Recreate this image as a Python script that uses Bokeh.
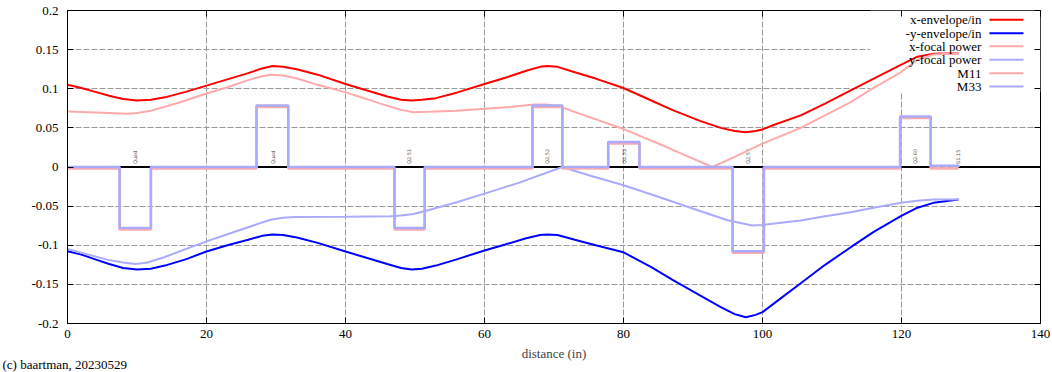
import numpy as np
from bokeh.plotting import figure
from bokeh.models import (Range1d, FixedTicker, CustomJSTickFormatter, LinearAxis,
                          Label, ColumnDataSource, Title)
from bokeh.core.properties import value
from bokeh.transform import dodge
from bokeh.embed import file_html
from bokeh.resources import INLINE

# ---------------- data ----------------
env_s = [0, 2, 4, 6, 8, 10, 12, 14, 17, 20, 23, 26, 28, 29.5, 31, 33, 36, 40, 43, 46,
         48, 49.5, 51, 53, 56, 60, 63, 66, 68, 69, 70.5, 73, 76, 80, 84, 87, 91, 94, 96,
         97.6, 99, 100, 102, 105.5, 109, 112.7, 116, 119.9, 122.3, 124.6, 128.2]
x_envelope = [0.105, 0.101, 0.096, 0.091, 0.087, 0.085, 0.086, 0.089, 0.096, 0.104,
              0.112, 0.120, 0.126, 0.129, 0.128, 0.125, 0.118, 0.106, 0.098, 0.090,
              0.086, 0.085, 0.086, 0.088, 0.095, 0.106, 0.114, 0.123, 0.128, 0.129,
              0.128, 0.121, 0.113, 0.101, 0.085, 0.073, 0.059, 0.050, 0.046, 0.0445,
              0.046, 0.048, 0.055, 0.066, 0.081, 0.098, 0.113, 0.1306, 0.141, 0.1447, 0.1455]
y_envelope_neg = [-0.1076, -0.112, -0.118, -0.124, -0.129, -0.131, -0.130, -0.126, -0.118,
                  -0.108, -0.100, -0.093, -0.088, -0.0863, -0.087, -0.090, -0.097, -0.108,
                  -0.116, -0.124, -0.129, -0.131, -0.130, -0.126, -0.118, -0.1067, -0.099,
                  -0.091, -0.087, -0.0863, -0.087, -0.093, -0.100, -0.109, -0.128, -0.144,
                  -0.164, -0.179, -0.188, -0.192, -0.189, -0.1855, -0.172, -0.1485, -0.125,
                  -0.1025, -0.083, -0.0629, -0.052, -0.0458, -0.0415]

fx_s = [0, 3, 6, 8.6, 10, 12, 14, 17, 20, 23, 26, 28, 29.2, 31, 33, 36, 39.8, 43, 45, 46.5,
        48, 49.8, 52, 56, 60, 64, 67.1, 69, 70.9, 75, 79.9, 85, 89, 92.8, 96, 99.9, 105.5,
        109, 112.7, 116, 119.9, 122.3, 124.6, 128.2]
x_focal = [0.071, 0.070, 0.069, 0.068, 0.069, 0.072, 0.077, 0.085, 0.094, 0.102, 0.111,
           0.116, 0.118, 0.117, 0.113, 0.105, 0.096, 0.087, 0.081, 0.077, 0.073, 0.070,
           0.0705, 0.072, 0.0743, 0.077, 0.080, 0.080, 0.077, 0.064, 0.0488, 0.030, 0.0145,
           0.0, 0.013, 0.0296, 0.050, 0.066, 0.083, 0.101, 0.121, 0.137, 0.1438, 0.1455]

fy_s = [0, 3, 6, 8, 9.8, 11.5, 14, 17, 20, 23, 26, 28, 29.2, 31, 32.7, 40, 46.5, 48, 49.8,
        52, 56, 60, 65, 71.2, 75, 79.9, 85, 91.1, 95, 98.5, 99.9, 102, 105.5, 109, 112.7,
        116, 119.9, 122.3, 124.6, 128.2]
y_focal = [-0.1046, -0.112, -0.119, -0.122, -0.124, -0.122, -0.115, -0.105, -0.095, -0.086,
           -0.077, -0.071, -0.0675, -0.065, -0.064, -0.0635, -0.0628, -0.062, -0.060, -0.055,
           -0.045, -0.034, -0.020, 0.0, -0.0105, -0.023, -0.038, -0.0565, -0.068, -0.0748,
           -0.0741, -0.072, -0.0684, -0.063, -0.0577, -0.052, -0.0458, -0.043, -0.0415, -0.0415]

quad_start = [7.5, 27.2, 47.05, 66.9, 77.8, 95.7, 119.8, 124.2]
quad_end = [12.0, 31.76, 51.4, 71.2, 82.3, 100.2, 124.2, 128.2]
m11_k = [-0.078, 0.0786, -0.078, 0.0786, 0.032, -0.1076, 0.0645, 0.0]
m33_k = [-0.078, 0.0786, -0.078, 0.0786, 0.032, -0.1076, 0.0645, 0.0015]

elem_start = [7.5, 27.2, 47.05, 66.9, 77.8, 95.7, 119.8, 128.2]
elem_end = [12.0, 31.76, 51.4, 71.2, 82.3, 100.2, 124.2, 140.0]
elem_label_at = [9.75, 29.5, 49.2, 69.0, 80.0, 97.9, 122.0, 128.2]
elem_names = ["Quad", "Quad", "Q2.51", "Q2.52", "Q2.53", "Q2.57", "Q2.60", "S1.15"]

x_ticks = [0, 20, 40, 60, 80, 100, 120, 140]
y_ticks = [-0.2, -0.15, -0.1, -0.05, 0, 0.05, 0.1, 0.15, 0.2]

legend_names = ["x-envelope/in", "-y-envelope/in", "x-focal power", "y-focal power", "M11", "M33"]
legend_colors = ["#ff0000", "#0000ff", "#ffaaaa", "#aaaaff", "#ffaaaa", "#aaaaff"]

caption = "(c) baartman, 20230529"

# ---------------- helpers ----------------
def steps(starts, ends, k):
    xs, ys = [0.0], [0.0]
    for s, e, v in zip(starts, ends, k):
        xs += [s, s, e, e]
        ys += [0.0, v, v, 0.0]
    return xs, ys

FONT = "Liberation Serif"

p = figure(width=1052, height=372, x_range=Range1d(0, 140), y_range=Range1d(-0.2, 0.2),
           output_backend="svg", toolbar_location=None,
           min_border_left=67, min_border_right=12, min_border_top=10, min_border_bottom=49)
p.background_fill_color = "white"
p.border_fill_color = "white"
p.outline_line_color = "black"
p.outline_line_width = 1

# axes
for ax in (p.xaxis[0], p.yaxis[0]):
    ax.major_label_text_font = FONT
    ax.major_label_text_font_size = "13px"
    ax.major_label_text_color = "black"
    ax.axis_line_color = "black"
    ax.major_tick_in = 6
    ax.major_tick_out = 0
    ax.major_tick_line_color = "black"
    ax.minor_tick_line_color = None
p.xaxis.ticker = FixedTicker(ticks=x_ticks)
p.yaxis.ticker = FixedTicker(ticks=y_ticks)
p.yaxis.formatter = CustomJSTickFormatter(code="return String(Math.round(tick*100)/100)")
p.xaxis.major_label_standoff = 6
p.yaxis.major_label_standoff = 9
p.xaxis.axis_label = "distance (in)"
p.xaxis.axis_label_text_font = FONT
p.xaxis.axis_label_text_font_size = "13px"
p.xaxis.axis_label_text_font_style = "normal"
p.xaxis.axis_label_standoff = 5

for loc, tk in (("above", x_ticks), ("right", y_ticks)):
    ax = LinearAxis(ticker=FixedTicker(ticks=tk),
                    formatter=CustomJSTickFormatter(code="return ''"),
                    major_label_text_font_size="0px", major_label_standoff=0,
                    axis_line_color=None, major_tick_in=6, major_tick_out=0,
                    major_tick_line_color="black", minor_tick_line_color=None)
    p.add_layout(ax, loc)

# caption below, at the far left
p.add_layout(Title(text=caption, align="left", offset=-65, standoff=-17,
                   text_font=FONT, text_font_size="13px", text_font_style="normal",
                   text_color="black"), "below")

# grid
p.xgrid.ticker = FixedTicker(ticks=x_ticks)
p.ygrid.ticker = FixedTicker(ticks=y_ticks)
for g in (p.xgrid[0], p.ygrid[0]):
    g.grid_line_color = "#9a9a9a"
    g.grid_line_dash = "6 2"
    g.grid_line_width = 1

# opaque key box (hides grid behind the key)
p.quad(left=[115.5], right=[140], bottom=[0.0958], top=[0.2],
       fill_color="white", line_color=None)

# element markers on the axis
p.segment(x0=elem_start, y0=[0] * len(elem_start), x1=elem_end, y1=[0] * len(elem_end),
          line_color="black", line_width=2)
p.text(x=elem_label_at, y=[0] * len(elem_label_at), text=elem_names, angle=np.pi / 2,
       text_align="left", text_baseline="middle", text_font=value("DejaVu Sans"),
       text_font_size="5px", text_color="#555555", y_offset=-3)

# curves
p.line(env_s, x_envelope, line_color="#ff0000", line_width=2)
p.line(env_s, y_envelope_neg, line_color="#0000ff", line_width=2)
p.line(fx_s, x_focal, line_color="#ffaaaa", line_width=2)
p.line(fy_s, y_focal, line_color="#aaaaff", line_width=2)

m11_x, m11_y = steps(quad_start, quad_end, m11_k)
m33_x, m33_y = steps(quad_start, quad_end, m33_k)
src11 = ColumnDataSource(dict(x=m11_x, y=m11_y))
p.line(x="x", y=dodge("y", -0.002), source=src11, line_color="#ffaaaa", line_width=2.5)
p.line(m33_x, m33_y, line_color="#aaaaff", line_width=2.5)

# key (gnuplot style: right-aligned text, sample line on the right)
key_text_x = 131.5
key_line_x0, key_line_x1 = 132.66, 137.55
key_rows = [0.1881, 0.1710, 0.1544, 0.1372, 0.1199, 0.1029]
for name, yy in zip(legend_names, key_rows):
    p.add_layout(Label(x=key_text_x, y=yy, text=name, text_align="right",
                       text_baseline="middle", text_font=FONT, text_font_size="13px",
                       text_color="black"))
p.segment(x0=[key_line_x0] * 6, y0=key_rows, x1=[key_line_x1] * 6, y1=key_rows,
          line_color=legend_colors, line_width=2)

open("out.html", "w").write(file_html(p, INLINE))
